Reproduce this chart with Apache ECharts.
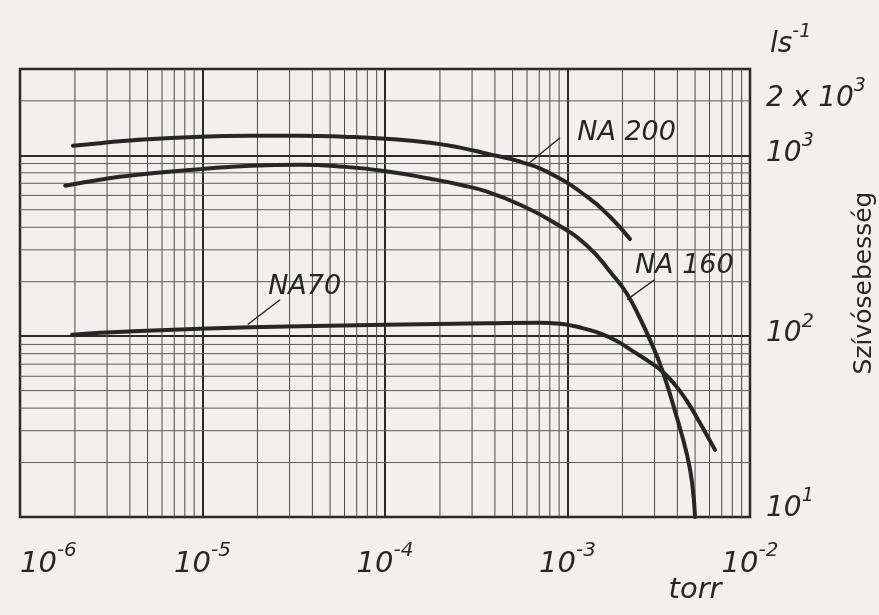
<!DOCTYPE html>
<html><head><meta charset="utf-8">
<script src="https://cdn.jsdelivr.net/npm/echarts@6/dist/echarts.min.js"></script>
<style>html,body{margin:0;padding:0;background:#f1f0ec}#c{width:879px;height:615px}</style>
</head><body><div id="c"></div><script>
// ---- data ----
const xTickExponents = [-6, -5, -4, -3, -2];
const yLabelValues = [2000, 1000, 100, 10];
const yLabelMain = ['2 x 10', '10', '10', '10'];
const yLabelSup = ['3', '3', '2', '1'];
const yUnitMain = 'ls';
const yUnitSup = '-1';
const yAxisTitle = 'Szívósebesség';
const xAxisTitle = 'torr';
const seriesNames = ['NA 200', 'NA 160', 'NA70'];

const na200X = [1.95e-6, 2.74e-6, 4.16e-6, 9.7e-6, 1.82e-5, 3.42e-5, 5.9e-5, 1.01e-4, 1.77e-4, 2.58e-4, 3.62e-4, 5.5e-4, 8.3e-4, 1.28e-3, 1.71e-3, 2.2e-3];
const na200Y = [1130, 1167, 1212, 1268, 1283, 1283, 1268, 1236, 1174, 1102, 1021, 922, 781, 590, 457, 345];

const na160X = [1.77e-6, 2.74e-6, 4.16e-6, 9.7e-6, 1.82e-5, 3.42e-5, 5.9e-5, 1.01e-4, 1.77e-4, 2.58e-4, 3.62e-4, 5.5e-4, 8.3e-4, 1.28e-3, 1.77e-3, 2.12e-3, 2.49e-3, 2.83e-3, 3.30e-3, 3.98e-3, 4.52e-3, 4.81e-3, 5.0e-3];
const na160Y = [679, 733, 776, 838, 876, 887, 865, 817, 742, 687, 629, 533, 429, 316, 218, 171, 126, 95.4, 65.1, 35.3, 22.0, 15.6, 10];

const na70X = [1.93e-6, 2.74e-6, 4.16e-6, 9.7e-6, 1.82e-5, 3.42e-5, 1.01e-4, 3.62e-4, 7.06e-4, 9.1e-4, 1.10e-3, 1.28e-3, 1.51e-3, 1.85e-3, 2.29e-3, 2.76e-3, 3.30e-3, 3.88e-3, 4.52e-3, 5.32e-3, 6.43e-3];
const na70Y = [101.7, 104.3, 106.3, 109.7, 111.9, 113.4, 115.5, 117.7, 118.5, 117.0, 113.4, 109.0, 103.6, 94.2, 82.4, 73.0, 63.9, 53.8, 43.6, 33.1, 23.5];

// leader lines (curve point -> label) and label anchors, in data units
const leader200 = [[6.1e-4, 898], [9.1e-4, 1250]];
const leader160 = [[2.12e-3, 159], [3.0e-3, 205]];
const leader70 = [[1.77e-5, 116], [2.66e-5, 159]];
const labelAnchors = [[1.13e-3, 1334], [2.34e-3, 245], [2.29e-5, 188]];

const xMin = 1e-6, xMax = 1e-2, yMin = 10, yMax = 3000;

// ---- gridline values (log paper) ----
const xMinor = [];
for (let e = -6; e < -2; e++) for (let m = 2; m <= 9; m++) xMinor.push(m * Math.pow(10, e));
const yMinor = [];
for (let e = 1; e <= 3; e++) for (let m = 2; m <= 9; m++) { const v = m * Math.pow(10, e); if (v < yMax) yMinor.push(v); }

const zip = (a, b) => a.map((v, i) => [v, b[i]]);
const INK = '#262626';
const FONT = 'DejaVu Sans';

const chart = echarts.init(document.getElementById('c'), null, {renderer: 'canvas'});

const curveStyle = {color: INK, width: 4, cap: 'round', join: 'round'};
const gridSeries = [];
xMinor.forEach(v => gridSeries.push({type: 'line', silent: true, data: [[v, yMin], [v, yMax]], showSymbol: false, lineStyle: {color: '#4a4a4a', width: 1}, z: 1}));
yMinor.forEach(v => gridSeries.push({type: 'line', silent: true, data: [[xMin, v], [xMax, v]], showSymbol: false, lineStyle: {color: '#5c5c5c', width: 1}, z: 1}));

const curve = (name, xs, ys) => ({name, type: 'line', data: zip(xs, ys), smooth: 0.5, showSymbol: false, lineStyle: curveStyle, itemStyle: {color: INK}, z: 5});

const option = {
  backgroundColor: '#f1f0ec',
  animation: false,
  grid: {left: 20, right: 129, top: 69, bottom: 98, containLabel: false, outerBoundsMode: 'none', show: true, borderColor: '#1e1e1e', borderWidth: 2.5, backgroundColor: 'transparent'},
  xAxis: {
    type: 'log', logBase: 10, min: xMin, max: xMax,
    axisLine: {show: false}, axisTick: {show: false},
    splitLine: {show: true, lineStyle: {color: '#2a2a2a', width: 2}},
    axisLabel: {
      margin: 24,
      alignMinLabel: 'left',
      formatter: v => '{b|10}{s|' + Math.round(Math.log10(v)) + '}',
      rich: {
        b: {fontSize: 29, fontStyle: 'italic', fontFamily: FONT, color: INK, lineHeight: 38, verticalAlign: 'bottom'},
        s: {fontSize: 20, fontStyle: 'italic', fontFamily: FONT, color: INK, lineHeight: 20, verticalAlign: 'top'}
      }
    }
  },
  yAxis: {
    type: 'log', logBase: 10, min: yMin, max: yMax,
    axisLine: {show: false}, axisTick: {show: false}, axisLabel: {show: false},
    splitLine: {show: true, lineStyle: {color: '#2a2a2a', width: 1.8}}
  },
  series: gridSeries.concat([
    curve(seriesNames[0], na200X, na200Y),
    curve(seriesNames[1], na160X, na160Y),
    curve(seriesNames[2], na70X, na70Y),
    {type: 'line', data: leader200, showSymbol: false, lineStyle: {color: INK, width: 1.5}, z: 4},
    {type: 'line', data: leader160, showSymbol: false, lineStyle: {color: INK, width: 1.5}, z: 4},
    {type: 'line', data: leader70, showSymbol: false, lineStyle: {color: INK, width: 1.5}, z: 4}
  ])
};
chart.setOption(option);

const px = (x, y) => chart.convertToPixel({gridIndex: 0}, [x, y]);
const richLabel = (size, supSize) => ({
  b: {fontSize: size, fontStyle: 'italic', fontFamily: FONT, fill: INK, lineHeight: size + 8, verticalAlign: 'bottom'},
  s: {fontSize: supSize, fontStyle: 'italic', fontFamily: FONT, fill: INK, lineHeight: supSize, verticalAlign: 'top'}
});
const graphics = [];
labelAnchors.forEach((a, i) => {
  const p = px(a[0], a[1]);
  graphics.push({type: 'text', x: p[0], y: p[1], style: {text: seriesNames[i], fontSize: 27, fontStyle: 'italic', fontFamily: FONT, fill: INK, align: 'left', verticalAlign: 'middle'}, z: 10});
});
const rightX = px(xMax, yMin)[0];
yLabelValues.forEach((v, i) => {
  const p = px(xMax, v);
  const off = v === yMin ? -12 : -6;
  graphics.push({type: 'text', x: rightX + 16, y: p[1] + off, style: {text: '{b|' + yLabelMain[i] + '}{s|' + yLabelSup[i] + '}', rich: richLabel(28, 19), align: 'left', verticalAlign: 'middle'}, z: 10});
});
const topY = px(xMax, yMax)[1];
graphics.push({type: 'text', x: rightX + 20, y: topY - 28, style: {text: '{b|' + yUnitMain + '}{s|' + yUnitSup + '}', rich: richLabel(28, 19), align: 'left', verticalAlign: 'middle'}, z: 10});
graphics.push({type: 'text', x: 864, y: 283, rotation: Math.PI / 2, style: {text: yAxisTitle, fontSize: 25, fontFamily: FONT, fill: INK, align: 'center', verticalAlign: 'middle'}, z: 10});
graphics.push({type: 'text', x: 695, y: 590, style: {text: xAxisTitle, fontSize: 29, fontStyle: 'italic', fontFamily: FONT, fill: INK, align: 'center', verticalAlign: 'middle'}, z: 10});

chart.setOption({graphic: graphics});
</script></body></html>
